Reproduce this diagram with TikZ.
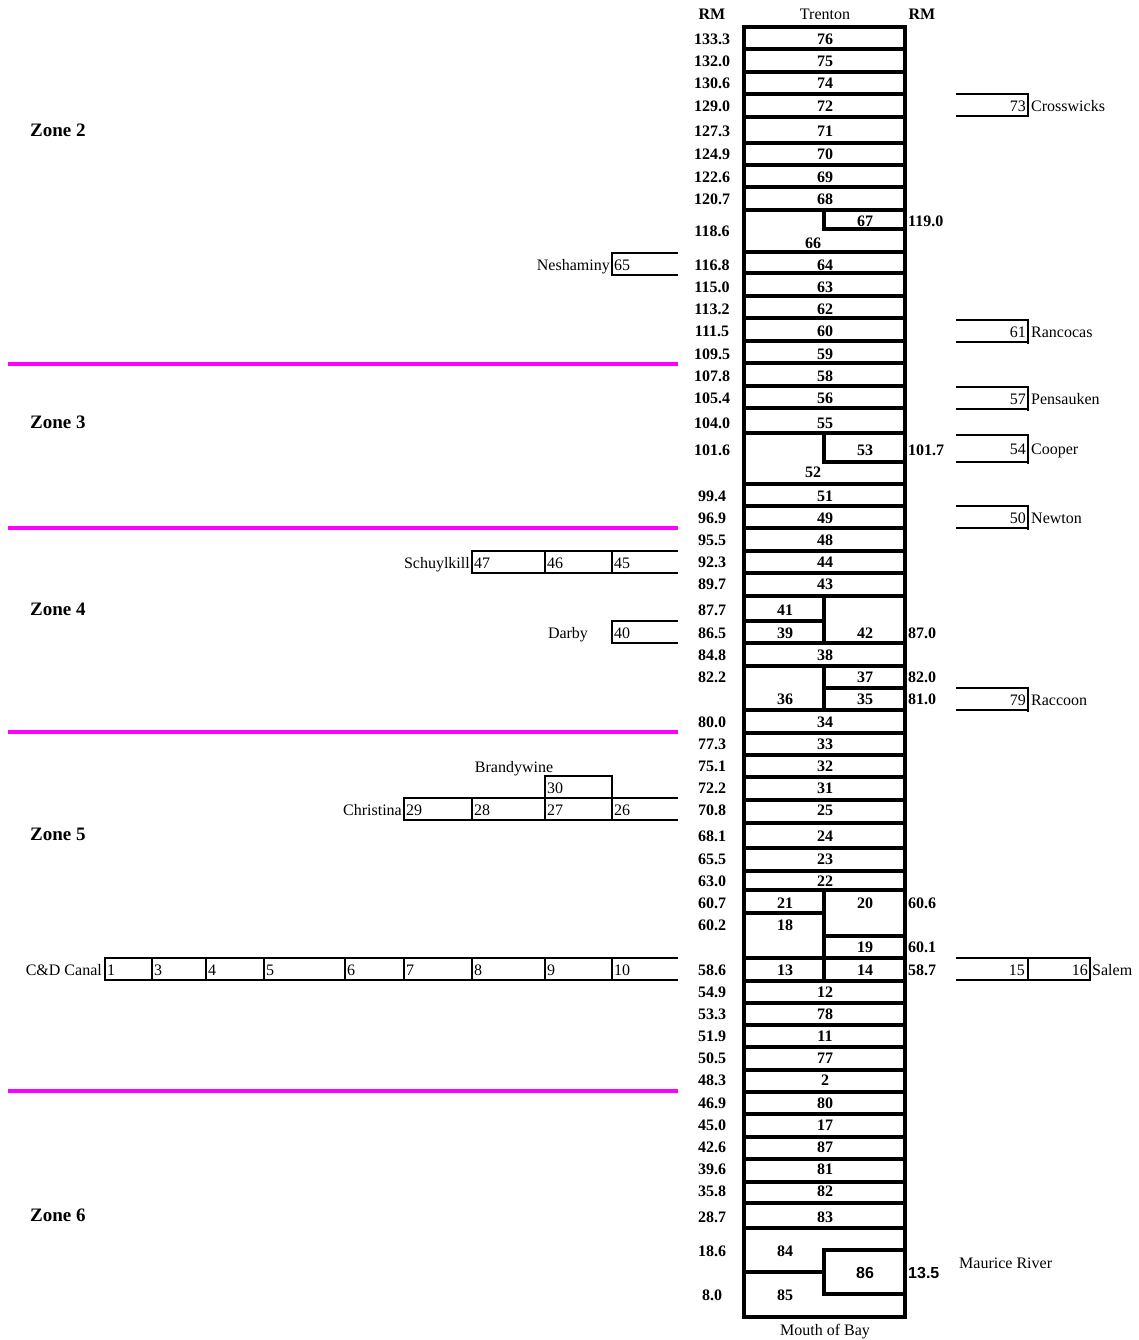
\documentclass[tikz,border=0pt]{standalone}
\usepackage{fontspec}
\setmainfont{Liberation Serif}
\newfontfamily\arialfont{Liberation Sans}
\begin{document}
\begin{tikzpicture}[x=1pt,y=-1pt,
  txt/.style={inner sep=0pt, text height=10.8pt, text depth=0pt, yshift=-0.8pt, font=\fontsize{16}{16}\selectfont},
  num/.style={txt, font=\fontsize{16}{16}\selectfont\bfseries},
  snum/.style={txt, font=\fontsize{16}{16}\selectfont\arialfont\bfseries},
  zonelbl/.style={inner sep=0pt, anchor=west, text height=12.8pt, text depth=0pt, font=\fontsize{19}{19}\selectfont\bfseries},
  chan/.style={line width=4pt},
  trib/.style={line width=1.8pt},
  zoneline/.style={line width=4pt, draw={rgb,255:red,255;green,0;blue,255}}
]
\useasboundingbox (0,0) rectangle (1138,1340);

% ---------- main channel ----------
\draw[chan] (744,27) rectangle (905,1316.7);
\foreach \y in {49.3,71.7,94,116.7,142.7,165,187.3,210,251.7,273.3,296,318.3,340.7,363.3,385.7,407.7,433.3,
  484,506,528.3,550.7,573.3,596,643.3,666,710,732.7,755,777.3,800,822.7,848.3,870.7,890,957.7,980.7,
  1002.7,1025,1047.3,1070,1091.7,1114,1136.7,1159,1181.7,1203.3,1228.3}
  \draw[chan] (744,\y) -- (905,\y);
% split cells
\draw[chan] (824,210) -- (824,229.3) -- (905,229.3);
\draw[chan] (824,433.3) -- (824,462.3) -- (905,462.3);
\draw[chan] (824,596) -- (824,643.3);
\draw[chan] (744,621) -- (824,621);
\draw[chan] (824,666) -- (824,710);
\draw[chan] (824,688.3) -- (905,688.3);
\draw[chan] (824,890) -- (824,980.7);
\draw[chan] (744,912.7) -- (824,912.7);
\draw[chan] (824,936) -- (905,936);
\draw[chan] (905,1250) -- (824,1250) -- (824,1294.3) -- (905,1294.3);
\draw[chan] (744,1271.7) -- (824,1271.7);

% ---------- column numbers ----------
\foreach \n/\y in {76/38,75/60,74/82,72/105,71/130,70/153,69/176,68/198,64/264,63/286,62/308,60/330,59/353,
  58/375,56/397,55/422,51/495,49/517,48/539,44/561,43/583,38/654,34/721,33/743,32/765,31/787,25/809,24/835,
  23/858,22/880,12/991,78/1013,11/1035,77/1057,2/1079,80/1102,17/1124,87/1146,81/1168,82/1190,83/1216}
  \node[num] (c\n) at (825,\y) {\n};
\foreach \n/\y in {41/609,39/632,36/698,21/902,18/924,13/969,84/1250,85/1294}
  \node[num] (c\n) at (785,\y) {\n};
\foreach \n/\y in {67/220,53/449,42/632,37/676,35/698,20/902,19/946,14/969}
  \node[num] (c\n) at (865,\y) {\n};
\node[num] (c66) at (813,242) {66};
\node[num] (c52) at (813,471) {52};
\node[snum] (c86) at (865,1272) {86};

% ---------- river miles ----------
\foreach \v/\y [count=\i] in {133.3/38,132.0/60,130.6/82,129.0/105,127.3/130,124.9/153,122.6/176,120.7/198,
  118.6/230,116.8/264,115.0/286,113.2/308,111.5/330,109.5/353,107.8/375,105.4/397,104.0/422,101.6/449,
  99.4/495,96.9/517,95.5/539,92.3/561,89.7/583,87.7/609,86.5/632,84.8/654,82.2/676,80.0/721,77.3/743,
  75.1/765,72.2/787,70.8/809,68.1/835,65.5/858,63.0/880,60.7/902,60.2/924,58.6/969,54.9/991,53.3/1013,
  51.9/1035,50.5/1057,48.3/1079,46.9/1102,45.0/1124,42.6/1146,39.6/1168,35.8/1190,28.7/1216,18.6/1250,8.0/1294}
  \node[num] (lrm\i) at (712,\y) {\v};
\foreach \v/\y [count=\i] in {119.0/220,101.7/449,87.0/632,82.0/676,81.0/698,60.6/902,60.1/946,58.7/969}
  \node[num, anchor=west] (rrm\i) at (908,\y) {\v};
\node[snum, anchor=west] (rrm86) at (908,1272) {13.5};

% ---------- headings ----------
\node[num] (hrml) at (712,13) {RM};
\node[txt] (htop) at (825,13) {Trenton};
\node[num] (hrmr) at (922,13) {RM};
\node[txt] (hbot) at (825,1329) {Mouth of Bay};

% ---------- zones ----------
\foreach \y in {364,528,732,1091}
  \draw[zoneline] (8,\y) -- (678,\y);
\node[zonelbl] (z2) at (30,130) {Zone 2};
\node[zonelbl] (z3) at (30,422) {Zone 3};
\node[zonelbl] (z4) at (30,609) {Zone 4};
\node[zonelbl] (z5) at (30,834) {Zone 5};
\node[zonelbl] (z6) at (30,1215) {Zone 6};

% ---------- left tributaries ----------
% Neshaminy
\draw[trib] (678,253) -- (612,253) -- (612,275) -- (678,275);
\node[txt, anchor=west] (t65) at (614,264) {65};
\node[txt, anchor=east] (nesh) at (610,264) {Neshaminy};
% Schuylkill
\draw[trib] (678,551) -- (472,551) -- (472,573) -- (678,573);
\draw[trib] (545,551) -- (545,573) (612,551) -- (612,573);
\node[txt, anchor=west] (t47) at (474,562) {47};
\node[txt, anchor=west] (t46) at (547,562) {46};
\node[txt, anchor=west] (t45) at (614,562) {45};
\node[txt, anchor=east] (schu) at (470,562) {Schuylkill};
% Darby
\draw[trib] (678,621) -- (612,621) -- (612,643) -- (678,643);
\node[txt, anchor=west] (t40) at (614,632) {40};
\node[txt] (darby) at (568,632) {Darby};
% Brandywine / Christina
\node[txt] (brandy) at (514,766) {Brandywine};
\draw[trib] (545,776) rectangle (612,798);
\node[txt, anchor=west] (t30) at (547,787) {30};
\draw[trib] (678,798) -- (404,798) -- (404,820) -- (678,820);
\draw[trib] (472,798) -- (472,820) (545,798) -- (545,820) (612,798) -- (612,820);
\node[txt, anchor=west] (t29) at (406,809) {29};
\node[txt, anchor=west] (t28) at (474,809) {28};
\node[txt, anchor=west] (t27) at (547,809) {27};
\node[txt, anchor=west] (t26) at (614,809) {26};
\node[txt, anchor=east] (christ) at (402,809) {Christina};
% C&D Canal
\draw[trib] (678,958) -- (105,958) -- (105,980) -- (678,980);
\foreach \x in {152,206,264,345,404,472,545,612}
  \draw[trib] (\x,958) -- (\x,980);
\foreach \n/\x in {1/107,3/154,4/208,5/266,6/347,7/406,8/474,9/547,10/614}
  \node[txt, anchor=west] (cd\n) at (\x,969) {\n};
\node[txt, anchor=east] (cdc) at (102,969) {C\&D Canal};

% ---------- right tributaries ----------
\foreach \n/\lbl/\yt/\yb [count=\i] in {73/Crosswicks/94/116,61/Rancocas/320/342,57/Pensauken/387/409,
  54/Cooper/435/462,50/Newton/506/528,79/Raccoon/688/710}
{
  \draw[trib] (956,\yt) -- (1028,\yt) -- (1028,\yb+1.5);
  \draw[trib] (956,\yb) -- (1028,\yb);
  \node[txt, anchor=east] (rt\n) at (1026,{(\yt+\yb)/2}) {\n};
  \node[txt, anchor=west] (rl\i) at (1031,{(\yt+\yb)/2}) {\lbl};
}
% Salem
\draw[trib] (956,958) -- (1090,958) -- (1090,980) -- (956,980);
\draw[trib] (1028,958) -- (1028,980);
\node[txt, anchor=east] (rt15) at (1025,969) {15};
\node[txt, anchor=east] (rt16) at (1088,969) {16};
\node[txt, anchor=west] (salem) at (1092,969) {Salem};
% Maurice River
\node[txt, anchor=west] (maurice) at (959,1262) {Maurice River};
\end{tikzpicture}
\end{document}
